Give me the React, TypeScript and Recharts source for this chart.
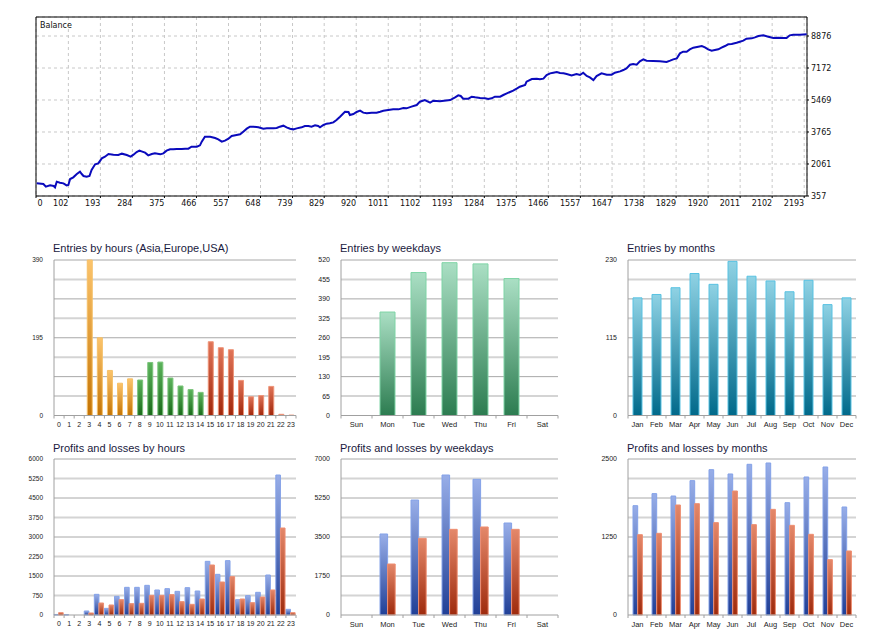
import React from "react";
import { LineChart, Line, XAxis, YAxis, CartesianGrid, BarChart, Bar, Cell, ReferenceArea } from "recharts";

const FONT_TOP = "'DejaVu Sans', sans-serif";
const FONT = "'Liberation Sans', Arial, sans-serif";

// balance curve (trade number / balance)
const balanceTrades = [
  12, 31, 38, 50, 60, 64, 69, 78, 88, 97,
  102, 107, 116, 126, 135, 140, 145, 154, 162, 168,
  178, 187, 197, 206, 216, 230, 244, 254, 268, 279,
  287, 296, 304, 310, 320, 329, 339, 348, 363, 372,
  381, 391, 400, 410, 424, 434, 443, 452, 467, 476,
  481, 490, 505, 519, 528, 538, 547, 557, 566, 580,
  590, 599, 609, 618, 628, 642, 656, 666, 685, 694,
  703, 713, 722, 732, 741, 751, 765, 774, 784, 793,
  803, 812, 817, 827, 836, 845, 855, 864, 874, 888,
  898, 902, 912, 921, 931, 940, 950, 964, 978, 988,
  997, 1011, 1025, 1040, 1054, 1063, 1077, 1092, 1101, 1115,
  1130, 1139, 1158, 1187, 1201, 1210, 1217, 1224, 1239, 1248,
  1258, 1272, 1286, 1295, 1305, 1314, 1329, 1338, 1348, 1357,
  1366, 1376, 1385, 1400, 1404, 1419, 1433, 1442, 1452, 1461,
  1471, 1480, 1490, 1499, 1509, 1518, 1532, 1546, 1556, 1565,
  1575, 1584, 1594, 1603, 1617, 1632, 1646, 1655, 1670, 1679,
  1688, 1698, 1707, 1717, 1726, 1736, 1745, 1764, 1783, 1802,
  1812, 1821, 1831, 1840, 1849, 1859, 1868, 1878, 1892, 1902,
  1911, 1920, 1930, 1939, 1949, 1958, 1968, 1977, 1987, 2001,
  2010, 2020, 2029, 2044, 2053, 2063, 2077, 2091, 2105, 2119,
  2134, 2143, 2152, 2162, 2181, 2200,
];
const balanceValues = [
  1031, 995, 854, 925, 889, 818, 1120, 1067, 1031, 925,
  943, 1262, 1351, 1528, 1652, 1528, 1422, 1386, 1422, 1741,
  2043, 2096, 2362, 2451, 2593, 2557, 2539, 2611, 2539, 2451,
  2557, 2699, 2770, 2735, 2664, 2522, 2593, 2628, 2575, 2628,
  2770, 2841, 2841, 2859, 2859, 2877, 2877, 2983, 2983, 3054,
  3250, 3516, 3516, 3445, 3374, 3250, 3303, 3409, 3551, 3604,
  3640, 3782, 3942, 4048, 4048, 4013, 3942, 3959, 3959, 3977,
  4048, 4101, 4013, 3942, 3906, 3959, 4013, 4084, 4084, 4048,
  4119, 4084, 4013, 4137, 4208, 4226, 4279, 4403, 4581, 4847,
  4829, 4669, 4723, 4829, 4900, 4794, 4758, 4794, 4794, 4847,
  4900, 4936, 4971, 4971, 5042, 5024, 5113, 5202, 5379, 5468,
  5326, 5432, 5400, 5468, 5610, 5716, 5681, 5539, 5539, 5645,
  5610, 5574, 5557, 5521, 5557, 5645, 5645, 5734, 5823, 5894,
  5965, 6071, 6178, 6267, 6444, 6586, 6604, 6568, 6604, 6799,
  6888, 6923, 6959, 6905, 6888, 6852, 6781, 6852, 6799, 6923,
  6746, 6675, 6533, 6746, 6888, 6817, 6817, 6923, 6994, 7065,
  7154, 7349, 7385, 7349, 7527, 7633, 7562, 7544, 7527, 7491,
  7562, 7633, 7686, 7953, 8041, 8041, 8166, 8254, 8307, 8343,
  8272, 8166, 8094, 8130, 8166, 8254, 8343, 8432, 8450, 8520,
  8574, 8627, 8733, 8751, 8804, 8875, 8911, 8840, 8769, 8787,
  8769, 8769, 8911, 8946, 8946, 8964,
];
const balanceXTicks = [10, 102, 193, 284, 375, 466, 557, 648, 739, 829, 920, 1011, 1102, 1193, 1284, 1375, 1466, 1557, 1647, 1738, 1829, 1920, 2011, 2102, 2193];
const balanceXLabels = ["0", "102", "193", "284", "375", "466", "557", "648", "739", "829", "920", "1011", "1102", "1193", "1284", "1375", "1466", "1557", "1647", "1738", "1829", "1920", "2011", "2102", "2193"];
const balanceYTicks = [357, 2061, 3765, 5469, 7172, 8876];

const hours = ["0", "1", "2", "3", "4", "5", "6", "7", "8", "9", "10", "11", "12", "13", "14", "15", "16", "17", "18", "19", "20", "21", "22", "23"];
const hourSession = ["orange", "orange", "orange", "orange", "orange", "orange", "orange", "orange", "green", "green", "green", "green", "green", "green", "green", "red", "red", "red", "red", "red", "red", "red", "red", "red"];
const entriesByHour = [0, 0, 0, 390, 195, 113, 81, 92, 89, 133, 134, 94, 74, 65, 58, 185, 170, 165, 88, 47, 50, 73, 3, 1];
const entriesHourGrid = [0, 48.75, 97.5, 146.25, 195, 243.75, 292.5, 341.25, 390];
const entriesHourLabels = [0, 195, 390];

const weekdays = ["Sun", "Mon", "Tue", "Wed", "Thu", "Fri", "Sat"];
const entriesByWeekday = [0, 346, 478, 511, 507, 458, 0];
const entriesWeekdayGrid = [0, 65, 130, 195, 260, 325, 390, 455, 520];

const months = ["Jan", "Feb", "Mar", "Apr", "May", "Jun", "Jul", "Aug", "Sep", "Oct", "Nov", "Dec"];
const entriesByMonth = [174, 179, 189, 210, 194, 228, 206, 199, 183, 200, 164, 174];
const entriesMonthGrid = [0, 28.75, 57.5, 86.25, 115, 143.75, 172.5, 201.25, 230];
const entriesMonthLabels = [0, 115, 230];

const profitsByHour = [20, 13, 0, 154, 795, 256, 718, 1064, 1064, 1141, 962, 1013, 910, 1051, 923, 2064, 1564, 2090, 590, 744, 872, 1538, 5384, 218];
const lossesByHour = [90, 0, 0, 77, 461, 385, 590, 436, 449, 756, 756, 782, 513, 410, 615, 1923, 1269, 1474, 615, 474, 692, 962, 3346, 90];
const plHourGrid = [0, 750, 1500, 2250, 3000, 3750, 4500, 5250, 6000];

const profitsByWeekday = [0, 3635, 5160, 6282, 6088, 4128, 0];
const lossesByWeekday = [0, 2288, 3440, 3844, 3949, 3844, 0];
const plWeekdayGrid = [0, 875, 1750, 2625, 3500, 4375, 5250, 6125, 7000];
const plWeekdayLabels = [0, 1750, 3500, 5250, 7000];

const profitsByMonth = [1752, 1945, 1907, 2153, 2329, 2260, 2415, 2436, 1800, 2212, 2372, 1731];
const lossesByMonth = [1287, 1309, 1763, 1784, 1480, 1987, 1448, 1693, 1437, 1293, 887, 1026];
const plMonthGrid = [0, 312.5, 625, 937.5, 1250, 1562.5, 1875, 2187.5, 2500];
const plMonthLabels = [0, 1250, 2500];

const gradients: Record<string, [string, string]> = {
  orange: ["#fcc46c", "#c47404"],
  green: ["#5cb45c", "#1a6a1a"],
  red: ["#e07458", "#a0260a"],
  mint: ["#aadfc4", "#2c7c50"],
  teal: ["#8fd2e4", "#00698a"],
  blue: ["#98aee8", "#203f96"],
  loss: ["#e4886a", "#9e2a0c"],
};
const strokes: Record<string, string> = {
  orange: "#f5c068",
  green: "#7cc47c",
  red: "#ee9478",
  mint: "#7ed4a6",
  teal: "#58c2e2",
  blue: "#84a2e8",
  loss: "#ee8e72",
};

function BalanceXTick(props: any) {
  const { x, y, index } = props;
  const first = index === 0;
  return (
    <text x={first ? x + 1.5 : x} y={y} dy="0.71em" textAnchor={first ? "start" : "end"} fontSize={8} fontFamily={FONT_TOP} fill="#111">
      {balanceXLabels[index]}
    </text>
  );
}

function CatTick(props: any) {
  const { x, y, payload, index, band, count, fontSize } = props;
  return (
    <g>
      <line x1={x - band / 2} x2={x - band / 2} y1={y} y2={y + 3} stroke="#a0a0a0" />
      {index === count - 1 ? <line x1={x + band / 2} x2={x + band / 2} y1={y} y2={y + 3} stroke="#a0a0a0" /> : null}
      <text x={x} y={y + 9} dy="0.35em" textAnchor="middle" fontSize={fontSize} fontFamily={FONT} fill="#222">
        {payload.value}
      </text>
    </g>
  );
}

type Series = { key: string; values: number[]; grad: string };

type PanelProps = {
  id: string;
  title: string;
  px: number;
  py: number;
  pw: number;
  ph: number;
  categories: string[];
  series: Series[];
  grid: number[];
  labels: number[];
  barSize: number;
  yFont: number;
  xFont: number;
  cellGrads?: string[];
};

const TOP = 4;

function BarPanel(p: PanelProps) {
  const n = p.categories.length;
  const band = p.pw / n;
  const steps = p.grid.length - 1;
  const yMax = p.grid[steps];
  const data = p.categories.map((c, i) => {
    const row: any = { cat: c };
    p.series.forEach((s) => (row[s.key] = s.values[i]));
    return row;
  });
  // alternate dark thin / light thick grid lines, counted from the zero line
  const gridLine = (lp: any) => {
    const idx = Math.round((TOP + p.ph - lp.y1) / (p.ph / steps));
    if (idx === 0) return <g key={lp.key} />;
    const dark = idx % 2 === 0;
    return (
      <line
        key={lp.key}
        x1={lp.x1}
        x2={lp.x2}
        y1={lp.y1}
        y2={lp.y2}
        stroke={dark ? "#a8a8a8" : "#d4d4d4"}
        strokeWidth={dark ? 1 : 2}
      />
    );
  };
  return (
    <>
      <div
        style={{
          position: "absolute",
          left: p.px - 0.5,
          top: p.py - 17.5,
          fontFamily: FONT,
          fontSize: 11,
          lineHeight: "13px",
          color: "#1a1a40",
          whiteSpace: "nowrap",
        }}
      >
        {p.title}
      </div>
      <div style={{ position: "absolute", left: p.px - 44, top: p.py - TOP }}>
        <BarChart width={p.pw + 48} height={p.ph + TOP + 24} data={data} margin={{ top: TOP, right: 4, bottom: 0, left: 0 }} barGap={0} barCategoryGap={0}>
          <defs>
            {Object.keys(gradients).map((g) => (
              <linearGradient key={g} id={`${p.id}-${g}`} x1="0" y1="0" x2="0" y2="1">
                <stop offset="0%" stopColor={gradients[g][0]} />
                <stop offset="100%" stopColor={gradients[g][1]} />
              </linearGradient>
            ))}
          </defs>
          <CartesianGrid vertical={false} horizontalValues={p.grid} horizontal={gridLine} />
          <XAxis
            dataKey="cat"
            interval={0}
            tickLine={false}
            tickSize={0}
            tickMargin={0}
            height={24}
            axisLine={{ stroke: "#a0a0a0" }}
            tick={(t: any) => <CatTick {...t} band={band} count={n} fontSize={p.xFont} />}
          />
          <YAxis
            type="number"
            domain={[0, yMax]}
            ticks={p.labels}
            interval={0}
            width={44}
            tickLine={false}
            tickSize={0}
            tickMargin={11}
            axisLine={{ stroke: "#a0a0a0" }}
            tick={{ fontSize: p.yFont, fill: "#222", fontFamily: FONT }}
          />
          {p.series.map((s) => (
            <Bar
              key={s.key}
              dataKey={s.key}
              barSize={p.barSize}
              fill={`url(#${p.id}-${s.grad})`}
              stroke={strokes[s.grad]}
              strokeWidth={1}
              isAnimationActive={false}
            >
              {p.cellGrads
                ? p.cellGrads.map((g, i) => <Cell key={i} fill={`url(#${p.id}-${g})`} stroke={strokes[g]} />)
                : null}
            </Bar>
          ))}
        </BarChart>
      </div>
    </>
  );
}

export default function App() {
  const balanceData = balanceTrades.map((t, i) => ({ trade: t, balance: balanceValues[i] }));
  return (
    <div style={{ position: "absolute", left: 0, top: 0, width: 878, height: 641, background: "#fff", overflow: "hidden" }}>
      <div style={{ position: "absolute", left: 0, top: 0 }}>
        <LineChart width={878} height={215} data={balanceData} margin={{ top: 17, right: 11, bottom: 5, left: 36 }}>
          <CartesianGrid stroke="#c8c8c8" strokeDasharray="3 3" />
          <XAxis
            dataKey="trade"
            type="number"
            domain={[10, 2201]}
            ticks={balanceXTicks}
            interval={0}
            height={14}
            tickSize={2}
            tickMargin={2}
            tickLine={{ stroke: "#000" }}
            axisLine={false}
            tick={(t: any) => <BalanceXTick {...t} />}
          />
          <YAxis
            orientation="right"
            type="number"
            domain={[357, 9888]}
            ticks={balanceYTicks}
            interval={0}
            width={60}
            tickSize={2}
            tickMargin={2}
            tickLine={{ stroke: "#000" }}
            axisLine={false}
            tick={{ fontSize: 8, fill: "#111", fontFamily: FONT_TOP }}
          />
          <ReferenceArea x1={10} x2={2201} y1={357} y2={9888} fill="none" fillOpacity={0} stroke="#000" strokeWidth={1} />
          <Line dataKey="balance" type="linear" stroke="#0a0abc" strokeWidth={2} dot={false} isAnimationActive={false} />
        </LineChart>
      </div>
      <div style={{ position: "absolute", left: 40, top: 21.2, fontFamily: FONT_TOP, fontSize: 8, lineHeight: "10px", color: "#111" }}>
        Balance
      </div>

      <BarPanel
        id="eh"
        title="Entries by hours (Asia,Europe,USA)"
        px={53.5}
        py={259.5}
        pw={242}
        ph={155.5}
        categories={hours}
        series={[{ key: "entries", values: entriesByHour, grad: "orange" }]}
        cellGrads={hourSession}
        grid={entriesHourGrid}
        labels={entriesHourLabels}
        barSize={5}
        yFont={6.5}
        xFont={7}
      />
      <BarPanel
        id="ew"
        title="Entries by weekdays"
        px={340.5}
        py={259.5}
        pw={217}
        ph={155.5}
        categories={weekdays}
        series={[{ key: "entries", values: entriesByWeekday, grad: "mint" }]}
        grid={entriesWeekdayGrid}
        labels={entriesWeekdayGrid}
        barSize={15}
        yFont={7}
        xFont={7.5}
      />
      <BarPanel
        id="em"
        title="Entries by months"
        px={627.5}
        py={259.5}
        pw={228}
        ph={155.5}
        categories={months}
        series={[{ key: "entries", values: entriesByMonth, grad: "teal" }]}
        grid={entriesMonthGrid}
        labels={entriesMonthLabels}
        barSize={9}
        yFont={7}
        xFont={7.5}
      />
      <BarPanel
        id="ph"
        title="Profits and losses by hours"
        px={53.5}
        py={459}
        pw={242}
        ph={156}
        categories={hours}
        series={[
          { key: "profit", values: profitsByHour, grad: "blue" },
          { key: "loss", values: lossesByHour, grad: "loss" },
        ]}
        grid={plHourGrid}
        labels={plHourGrid}
        barSize={4.6}
        yFont={6.5}
        xFont={7}
      />
      <BarPanel
        id="pw"
        title="Profits and losses by weekdays"
        px={340.5}
        py={459}
        pw={217}
        ph={156}
        categories={weekdays}
        series={[
          { key: "profit", values: profitsByWeekday, grad: "blue" },
          { key: "loss", values: lossesByWeekday, grad: "loss" },
        ]}
        grid={plWeekdayGrid}
        labels={plWeekdayLabels}
        barSize={7.6}
        yFont={7}
        xFont={7.5}
      />
      <BarPanel
        id="pm"
        title="Profits and losses by months"
        px={627.5}
        py={459}
        pw={228}
        ph={156}
        categories={months}
        series={[
          { key: "profit", values: profitsByMonth, grad: "blue" },
          { key: "loss", values: lossesByMonth, grad: "loss" },
        ]}
        grid={plMonthGrid}
        labels={plMonthLabels}
        barSize={4.7}
        yFont={7}
        xFont={7.5}
      />
    </div>
  );
}
